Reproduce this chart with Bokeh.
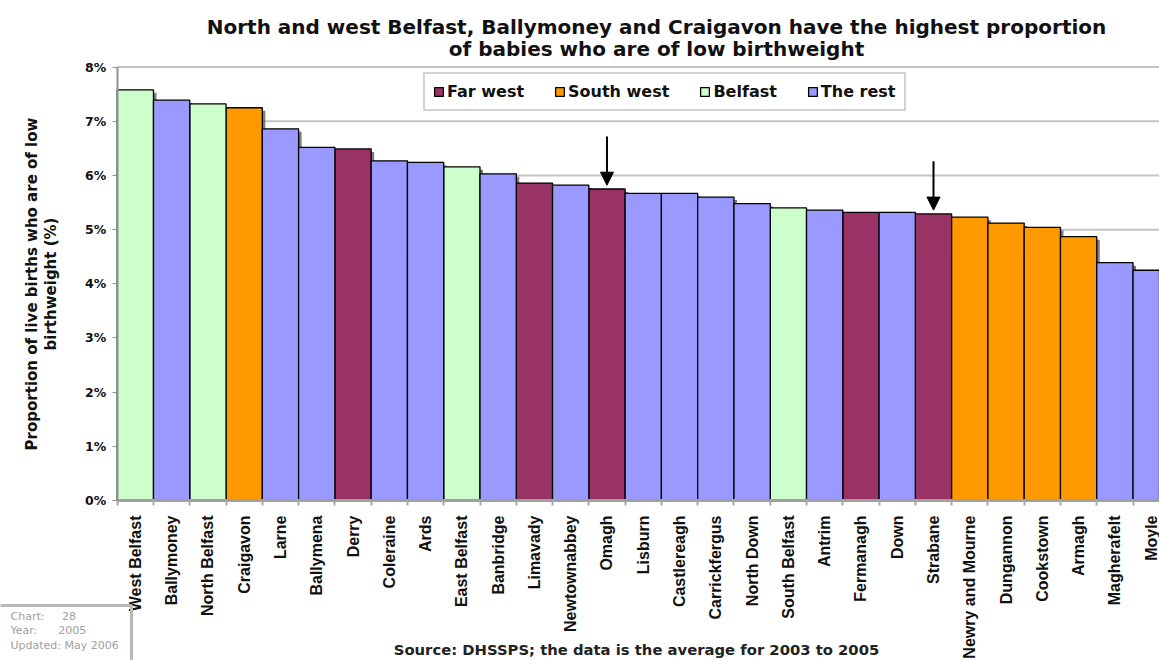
import math
from bokeh.plotting import figure
from bokeh.models import (ColumnDataSource, Range1d, FixedTicker, BoxAnnotation,
                          PrintfTickFormatter, Legend, LegendItem, Label, Arrow, NormalHead)
from bokeh.embed import file_html
from bokeh.resources import INLINE

# ---------------- data ----------------
councils = ["West Belfast", "Ballymoney", "North Belfast", "Craigavon", "Larne",
            "Ballymena", "Derry", "Coleraine", "Ards", "East Belfast", "Banbridge",
            "Limavady", "Newtownabbey", "Omagh", "Lisburn", "Castlereagh",
            "Carrickfergus", "North Down", "South Belfast", "Antrim", "Fermanagh",
            "Down", "Strabane", "Newry and Mourne", "Dungannon", "Cookstown",
            "Armagh", "Magherafelt", "Moyle"]
low_birthweight_pct = [7.58, 7.39, 7.32, 7.25, 6.86,
                       6.52, 6.49, 6.27, 6.24, 6.16, 6.03,
                       5.86, 5.82, 5.75, 5.67, 5.67,
                       5.60, 5.48, 5.40, 5.36, 5.32,
                       5.32, 5.29, 5.23, 5.12, 5.04,
                       4.87, 4.39, 4.25]
region_group = ["Belfast", "The rest", "Belfast", "South west", "The rest",
                "The rest", "Far west", "The rest", "The rest", "Belfast", "The rest",
                "Far west", "The rest", "Far west", "The rest", "The rest",
                "The rest", "The rest", "Belfast", "The rest", "Far west",
                "The rest", "Far west", "South west", "South west", "South west",
                "South west", "The rest", "The rest"]
group_order = ["Far west", "South west", "Belfast", "The rest"]
group_colors = ["#993366", "#FF9900", "#CCFFCC", "#9999FF"]
highlighted = ["Omagh", "Strabane"]
y_ticks = [0, 1, 2, 3, 4, 5, 6, 7, 8]

title_lines = ["North and west Belfast, Ballymoney and Craigavon have the highest proportion",
               "of babies who are of low birthweight"]
y_title = "Proportion of live births who are of low\nbirthweight (%)"
source_note = "Source: DHSSPS; the data is the average for 2003 to 2005"
NB = "\u00a0"
stamp_text = ("Chart:" + NB * 5 + "28\n" + "Year:" + NB * 6 + "2005\n" + "Updated:" + NB + "May 2006")

# ---------------- layout ----------------
W, H = 1159, 660                 # the page has no margin: figure fills the window
BAR_PX = 36.28                   # width of one bar slot
PLOT_LEFT, PLOT_TOP, PLOT_BOTTOM = 116.7, 66.6, 500.0
PX_PER_PCT = (PLOT_BOTTOM - PLOT_TOP) / y_ticks[-1]
SHADOW_PX = 3

n = len(councils)
x_pos = list(range(n))           # bar i is centred on i
x_start = -0.5 - PLOT_LEFT / BAR_PX
y_start = -(H - PLOT_BOTTOM) / PX_PER_PCT

p = figure(width=W, height=H,
           x_range=Range1d(x_start, x_start + W / BAR_PX),
           y_range=Range1d(y_start, y_start + H / PX_PER_PCT),
           output_backend="svg", toolbar_location=None,
           min_border_left=0, min_border_top=0, min_border_bottom=0, min_border_right=0)
p.title.visible = False
p.outline_line_color = None
p.background_fill_color = "white"
p.border_fill_color = "white"
p.xgrid.grid_line_color = None
p.ygrid.grid_line_color = None

# horizontal gridlines across the plot area only
ng = len(y_ticks) - 1
grid_src = ColumnDataSource(dict(y=y_ticks[1:], x0=[x_pos[0] - 0.5] * ng,
                                 x1=[x_pos[-1] + 0.5] * ng))
p.segment(x0="x0", x1="x1", y0="y", y1="y", source=grid_src,
          line_color="#c4c4c4", line_width=2, level="underlay")

# soft drop shadow of the bars (offset copy drawn first)
shadow_src = ColumnDataSource(dict(x=[x + SHADOW_PX / BAR_PX for x in x_pos],
                                   top=[v - SHADOW_PX / PX_PER_PCT for v in low_birthweight_pct]))
p.vbar(x="x", top="top", width=1.0, source=shadow_src, fill_color="#505050",
       fill_alpha=0.75, line_color=None)

items = []
for g, c in zip(group_order, group_colors):
    idx = [i for i, gg in enumerate(region_group) if gg == g]
    src = ColumnDataSource(dict(x=[x_pos[i] for i in idx],
                                top=[low_birthweight_pct[i] for i in idx],
                                name=[councils[i] for i in idx]))
    r = p.vbar(x="x", top="top", width=1.0, source=src, fill_color=c,
               line_color="black", line_width=1.3)
    items.append(LegendItem(label=g, renderers=[r]))

legend = Legend(items=items, orientation="horizontal", location=(423, H - 111),
                label_text_font="DejaVu Sans", label_text_font_style="bold",
                label_text_font_size="16px", label_text_color="#111111",
                glyph_width=11, glyph_height=11, label_standoff=3, spacing=30,
                padding=8, border_line_color="#a8a8a8", border_line_width=2,
                background_fill_color="white", background_fill_alpha=1.0)
p.add_layout(legend)

# y axis (fixed at left edge of first bar)
yax = p.yaxis[0]
yax.fixed_location = x_pos[0] - 0.5
yax.bounds = (y_ticks[0], y_ticks[-1])
yax.ticker = FixedTicker(ticks=y_ticks)
yax.formatter = PrintfTickFormatter(format="%d%%")
yax.axis_label = y_title
yax.axis_label_text_font = "DejaVu Sans"
yax.axis_label_text_font_style = "bold"
yax.axis_label_text_font_size = "15px"
yax.axis_label_text_line_height = 1.05
yax.axis_label_text_color = "#111111"
yax.axis_label_standoff = 22
yax.major_label_text_font = "DejaVu Sans"
yax.major_label_text_font_style = "bold"
yax.major_label_text_font_size = "12.5px"
yax.major_label_text_color = "#111111"
yax.major_label_standoff = 6
yax.major_tick_out = 5
yax.major_tick_in = 0
yax.major_tick_line_color = "#909090"
yax.minor_tick_line_color = None
yax.axis_line_color = "#909090"
yax.axis_line_width = 2

# x axis (fixed at 0%), council names at bar centres, small ticks between bars
xax = p.xaxis[0]
xax.fixed_location = 0
xax.bounds = (x_pos[0] - 0.5, x_pos[-1] + 0.5)
xax.ticker = FixedTicker(ticks=x_pos, minor_ticks=[x - 0.5 for x in x_pos])
xax.major_label_overrides = {x: name for x, name in zip(x_pos, councils)}
xax.major_label_orientation = math.pi / 2
xax.major_label_text_font = "Liberation Sans"
xax.major_label_text_font_style = "bold"
xax.major_label_text_font_size = "16px"
xax.major_label_text_color = "#111111"
xax.major_label_standoff = 10
xax.major_tick_out = 0
xax.major_tick_in = 0
xax.major_tick_line_color = None
xax.minor_tick_out = 5
xax.minor_tick_in = 0
xax.minor_tick_line_color = "#a8a8a8"
xax.minor_tick_line_width = 2
xax.axis_line_color = "#a0a0a0"
xax.axis_line_width = 3

# arrows pointing at two far-west councils
hi_idx = [councils.index(c) for c in highlighted]
arrow_tip = [low_birthweight_pct[i] + 0.07 for i in hi_idx]
arrow_src = ColumnDataSource(dict(x=[x_pos[i] for i in hi_idx],
                                  y0=[t + 0.9 for t in arrow_tip], y1=arrow_tip))
p.add_layout(Arrow(end=NormalHead(size=13, fill_color="black", line_color="black"),
                   x_start="x", y_start="y0", x_end="x", y_end="y1",
                   source=arrow_src, line_width=2, line_color="black"))

# title (two lines) - screen units, origin at the bottom-left of the figure
for i, t in enumerate(title_lines):
    p.add_layout(Label(x=656, y=H - 26 - 22 * i, x_units="screen", y_units="screen",
                       text=t, text_align="center", text_baseline="middle",
                       text_font="DejaVu Sans", text_font_style="bold",
                       text_font_size="20px", text_color="#111111"))

# source note
p.add_layout(Label(x=636, y=H - 649, x_units="screen", y_units="screen",
                   text=source_note, text_align="center", text_baseline="middle",
                   text_font="DejaVu Sans", text_font_style="bold",
                   text_font_size="14.8px", text_color="#222222"))

# stamp box bottom-left (box runs off the left and bottom edges)
p.add_layout(BoxAnnotation(left=-10, right=131, bottom=-10, top=H - 605,
                           left_units="screen", right_units="screen",
                           bottom_units="screen", top_units="screen",
                           fill_color=None, fill_alpha=0, line_color="#b8b8b8",
                           line_width=3, line_alpha=1.0))
p.add_layout(Label(x=10, y=H - 609, x_units="screen", y_units="screen",
                   text=stamp_text, text_align="left", text_baseline="top",
                   text_font="DejaVu Sans", text_font_size="11px",
                   text_color="#a0a0a0", text_line_height=1.12))

open("out.html", "w").write(file_html(p, INLINE))
